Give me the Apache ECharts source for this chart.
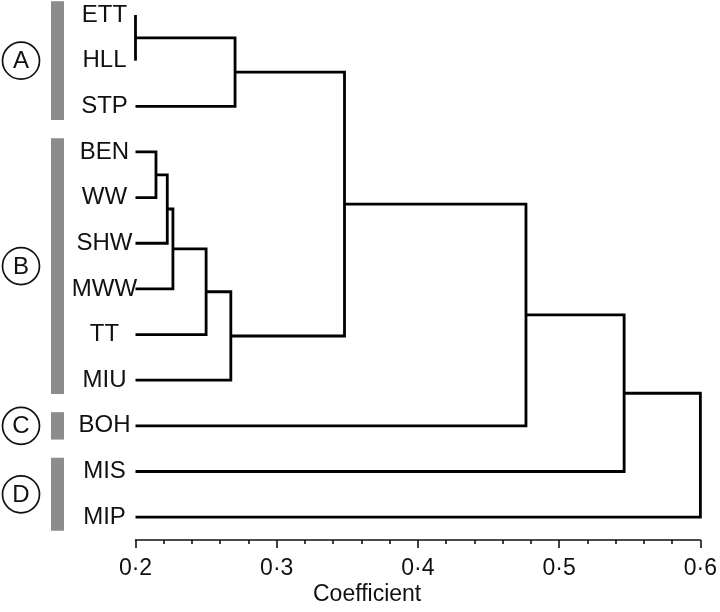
<!DOCTYPE html>
<html>
<head>
<meta charset="utf-8">
<script src="https://cdn.jsdelivr.net/npm/echarts@6/dist/echarts.min.js"></script>
<style>html,body{margin:0;padding:0;background:#fff}#c{width:720px;height:612px}</style>
</head>
<body>
<div id="c"></div>
<script>
// Leaves (top to bottom)
var leaves = ['ETT','HLL','STP','BEN','WW','SHW','MWW','TT','MIU','BOH','MIS','MIP'];
// Merges: [childA, childB, coefficient]; indices < 12 are leaves, >= 12 are earlier merges (12 + merge index)
var merges = [
  [0, 1, 0.200],    // 12: ETT+HLL
  [3, 4, 0.2145],   // 13: BEN+WW
  [13, 5, 0.2225],  // 14: +SHW
  [14, 6, 0.2265],  // 15: +MWW
  [15, 7, 0.250],   // 16: +TT
  [16, 8, 0.2675],  // 17: +MIU
  [12, 2, 0.2705],  // 18: A: +STP
  [18, 17, 0.348],  // 19: A+B
  [19, 9, 0.4765],  // 20: +BOH
  [20, 10, 0.546],  // 21: +MIS
  [21, 11, 0.600]   // 22: +MIP
];
var leafBase = 0.2;
var xTicks = [0.2, 0.3, 0.4, 0.5, 0.6];
var axisName = 'Coefficient';
var groups = [
  {label: 'A', first: 0, last: 2},
  {label: 'B', first: 3, last: 8},
  {label: 'C', first: 9, last: 9},
  {label: 'D', first: 10, last: 11}
];

// Build node positions and link polylines
var nodes = leaves.map(function (n, i) { return {x: leafBase, y: i}; });
var links = [];
merges.forEach(function (m) {
  var a = nodes[m[0]], b = nodes[m[1]], h = m[2];
  links.push([a.x, a.y, h, a.y, h, b.y, b.x, b.y]);
  nodes.push({x: h, y: (a.y + b.y) / 2});
});

var FONT = '"Liberation Sans", Arial, Helvetica, sans-serif';
var chart = echarts.init(document.getElementById('c'), null, {renderer: 'canvas'});

var gridTop = 15, gridBottom = 72, gridLeft = 135.5, gridRight = 16;
var yMax = 11.5;

chart.setOption({
  animation: false,
  backgroundColor: '#fff',
  grid: {left: gridLeft, right: gridRight, top: gridTop, bottom: gridBottom},
  xAxis: {
    type: 'value', min: 0.2, max: 0.6, interval: 0.1, position: 'bottom',
    axisLine: {show: true, onZero: false, lineStyle: {color: '#111', width: 1.6}},
    axisTick: {show: true, length: 8, inside: false, lineStyle: {color: '#111', width: 1.6}},
    minorTick: {show: true, splitNumber: 5, length: 4, lineStyle: {color: '#111', width: 1.6}},
    splitLine: {show: false},
    axisLabel: {
      margin: 17, color: '#111', fontSize: 23, fontFamily: FONT,
      formatter: function (v) { return v.toFixed(1).replace('.', '\u00b7'); }
    }
  },
  yAxis: {
    type: 'value', inverse: true, min: 0, max: yMax, interval: 1,
    axisLine: {show: false}, axisTick: {show: false}, splitLine: {show: false},
    axisLabel: {
      showMaxLabel: false, margin: 31, align: 'center', color: '#111', fontSize: 24, fontFamily: FONT,
      formatter: function (v) { return (Math.abs(v - Math.round(v)) < 1e-6 && leaves[Math.round(v)]) ? leaves[Math.round(v)] : ''; }
    }
  },
  series: [{
    type: 'custom',
    coordinateSystem: 'cartesian2d',
    data: links,
    encode: {x: [0, 2, 4, 6], y: [1, 3, 5, 7]},
    renderItem: function (params, api) {
      var pts = [];
      for (var k = 0; k < 4; k++) pts.push(api.coord([api.value(2 * k), api.value(2 * k + 1)]));
      return {type: 'polyline', shape: {points: pts}, style: {stroke: '#000', lineWidth: 2.8, fill: null, lineJoin: 'miter', lineCap: 'butt'}};
    },
    silent: true
  }]
});

// Group annotations positioned from leaf coordinates
function yOf(v) { return chart.convertToPixel({gridIndex: 0}, [0.2, v])[1]; }
var extra = [{type: 'text', left: 313, top: 583, style: {text: axisName, font: '23px ' + FONT, fill: '#111'}}];
groups.forEach(function (g) {
  var y0 = yOf(g.first - 0.3), y1 = yOf(g.last + 0.3);
  var cy = (yOf(g.first) + yOf(g.last)) / 2;
  extra.push({type: 'rect', shape: {x: 51, y: y0, width: 13, height: y1 - y0}, style: {fill: '#8c8c8c'}});
  extra.push({type: 'circle', shape: {cx: 21, cy: cy, r: 18.5}, style: {fill: '#fff', stroke: '#111', lineWidth: 1.7}});
  extra.push({type: 'text', x: 21, y: cy + 1, style: {text: g.label, font: '24px ' + FONT, fill: '#111', align: 'center', verticalAlign: 'middle'}});
});
chart.setOption({graphic: extra});
</script>
</body>
</html>
